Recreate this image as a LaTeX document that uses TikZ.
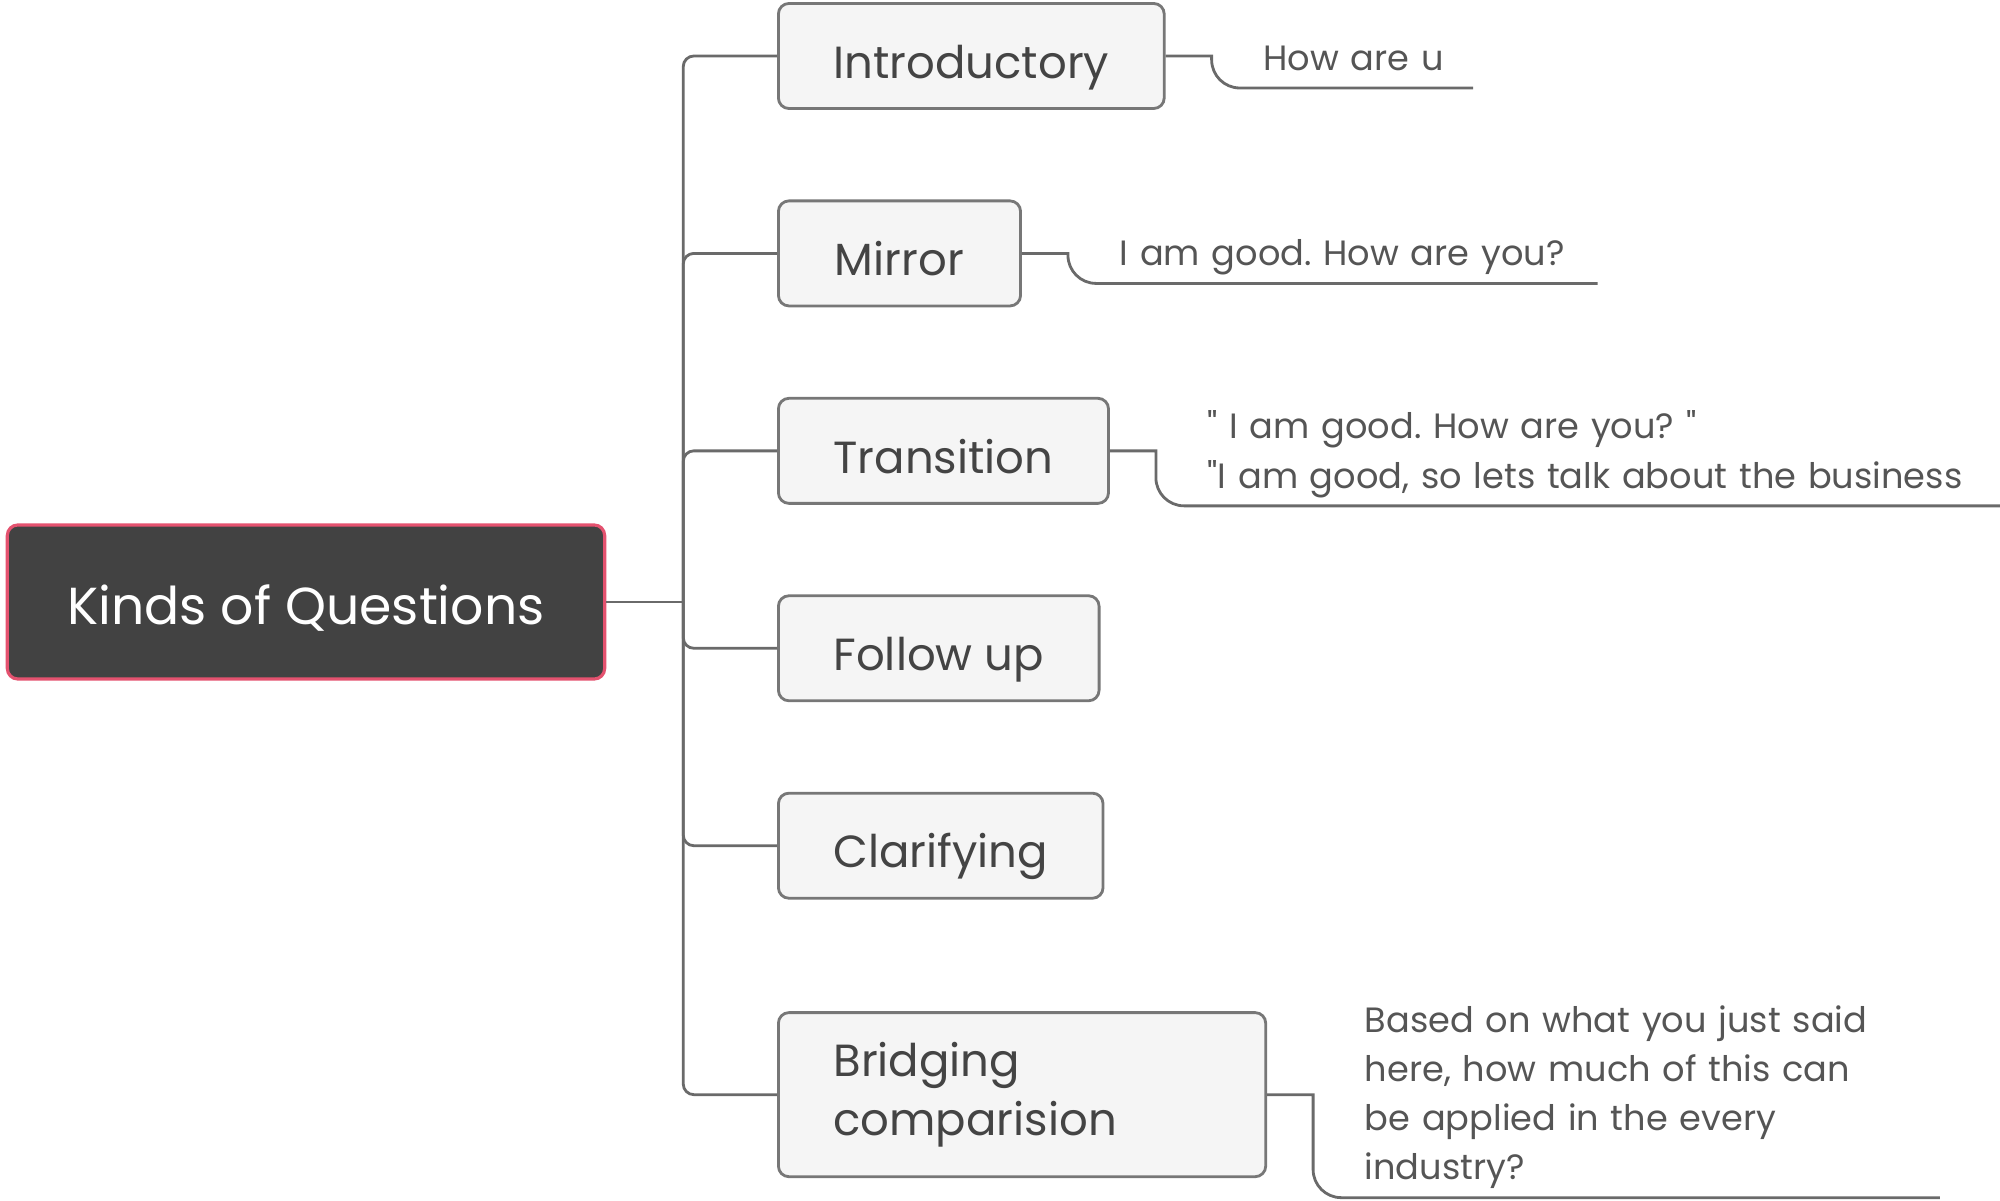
\documentclass[tikz,border=0pt]{standalone}
\usepackage{fontspec}
\setmainfont{Poppins}[Ligatures=TeXOff]
\usetikzlibrary{positioning, calc}
\definecolor{kqRoot}{HTML}{424242}
\definecolor{kqRootEdge}{HTML}{E4526F}
\definecolor{kqFill}{HTML}{F5F5F5}
\definecolor{kqEdge}{HTML}{777777}
\definecolor{kqLine}{HTML}{6A6A6A}
\definecolor{kqText}{HTML}{444444}
\definecolor{kqLeaf}{HTML}{555555}
\frenchspacing
\tikzset{
  kqnode/.style={
    draw=kqEdge, fill=kqFill, rounded corners=3pt, line width=0.8pt,
    minimum height=1.05cm, inner xsep=0.55cm, align=left,
    font=\fontsize{12.8}{17}\selectfont, text=kqText
  },
  kqone/.style={kqnode, text height=13pt, text depth=0.4pt},
  rootnode/.style={
    draw=kqRootEdge, fill=kqRoot, rounded corners=3pt, line width=0.9pt,
    minimum width=5.97cm, minimum height=1.54cm,
    text height=13.4pt, text depth=0.4pt,
    font=\fontsize{14.8}{20}\selectfont, text=white
  },
  leaf/.style={
    anchor=south west, inner xsep=0pt, inner ysep=0.64pt, align=left,
    font=\fontsize{10}{14}\selectfont, text=kqLeaf,
    execute at end node=\strut
  },
  stem/.style={draw=kqLine, line width=0.8pt},
  branch/.style={stem, rounded corners=3pt},
  leafline/.style={stem}
}

\begin{document}
\begin{tikzpicture}[x=0.01cm, y=-0.01cm, node distance=0.895cm]
  \useasboundingbox (0,0) rectangle (2000,1201);
  \node[rootnode] (root) at (306,602) {Kinds of Questions};
  % question kinds
  \node[kqone, minimum width=3.84cm, anchor=west] (intro) at (777,56) {Introductory};
  \node[kqone, minimum width=2.42cm, below=of intro.south west, anchor=north west] (mirror) {Mirror};
  \node[kqone, minimum width=3.24cm, below=of mirror.south west, anchor=north west] (trans) {Transition};
  \node[kqone, minimum width=3.17cm, below=of trans.south west, anchor=north west] (follow) {Follow up};
  \node[kqone, minimum width=3.10cm, below=of follow.south west, anchor=north west] (clar) {Clarifying};
  \node[kqnode, text width=3.77cm, minimum height=1.64cm, below=1.115cm of clar.south west, anchor=north west] (bridge) {Bridging\\comparision};
  % tree lines
  \coordinate (trunk) at ($(root.east)+(77,0)$);
  \draw[stem] (root.east) -- (trunk);
  \draw[branch] (trunk) |- (intro.west);
  \draw[branch] (trunk) |- (mirror.west);
  \draw[branch] (trunk) |- (trans.west);
  \draw[branch] (trunk) |- (follow.west);
  \draw[branch] (trunk) |- (clar.west);
  \draw[branch] (trunk) |- (bridge.west);
  % examples
  \node[leaf, text width=2.09cm] (introleaf) at ($(intro.east)+(97,32)$) {How are u};
  \node[leaf, text width=4.77cm] (mirrorleaf) at ($(mirror.east)+(97,30)$) {I am good. How are you?};
  \node[leaf, text width=7.98cm] (transleaf) at ($(trans.east)+(97,55)$) {" I am good. How are you? "\\"I am good, so lets talk about the business};
  \node[leaf, text width=5.74cm] (bridgeleaf) at ($(bridge.east)+(97,103)$) {Based on what you just said\\here, how much of this can\\be applied in the every\\industry?};
  \draw[leafline] (intro.east) -- ++(46,0) [rounded corners=8pt] -- ++(0,32) -- (introleaf.south east);
  \draw[leafline] (mirror.east) -- ++(46,0) [rounded corners=8pt] -- ++(0,30) -- (mirrorleaf.south east);
  \draw[leafline] (trans.east) -- ++(46,0) [rounded corners=8pt] -- ++(0,55) -- (transleaf.south east);
  \draw[leafline] (bridge.east) -- ++(46,0) [rounded corners=8pt] -- ++(0,103) -- (bridgeleaf.south east);
\end{tikzpicture}
\end{document}
